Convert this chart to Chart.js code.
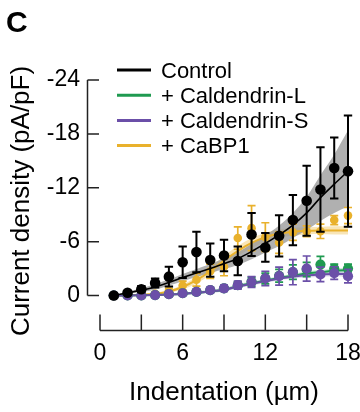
<!DOCTYPE html>
<html>
<head>
<meta charset="utf-8">
<script src="https://cdn.jsdelivr.net/npm/chart.js@4/dist/chart.umd.min.js"></script>
<style>
  html, body { margin: 0; padding: 0; background: #fff; }
  canvas { display: block; }
</style>
</head>
<body>
<canvas id="c" width="360" height="412"></canvas>
<script>
// ---------------- data ----------------
const indentation = [1, 2, 3, 4, 5, 6, 7, 8, 9, 10, 11, 12, 13, 14, 15, 16, 17, 18];

const controlMean = [0, -0.3, -0.7, -1.4, -2.1, -3.7, -4.85, -3.95, -4.45, -3.85, -6.8, -5.35, -6.65, -8.4, -10.55, -11.8, -14.2, -13.85];
const controlSem  = [0.1, 0.15, 0.35, 0.5, 1.1, 1.75, 2.25, 1.85, 1.75, 1.6, 2.4, 1.6, 2.3, 2.8, 3.9, 4.7, 3.4, 6.2];
const controlFit  = [0, -0.3, -0.6, -0.95, -1.45, -2.0, -2.5, -3.0, -3.55, -4.1, -4.9, -5.8, -6.75, -7.85, -9.2, -10.9, -12.4, -13.85];
const controlBandHigh = [0, -0.4, -0.8, -1.25, -1.8, -2.4, -2.95, -3.5, -4.15, -4.8, -5.75, -6.7, -7.8, -9.2, -11.0, -13.4, -15.7, -18.4];
const controlBandLow  = [0, -0.2, -0.4, -0.65, -1.1, -1.6, -2.05, -2.5, -2.95, -3.4, -4.05, -4.8, -5.5, -6.4, -7.3, -8.3, -9.2, -9.9];

const calLMean = [0, 0, 0, -0.05, -0.15, -0.25, -0.4, -0.6, -0.8, -1.15, -1.55, -1.9, -2.2, -2.6, -2.9, -3.45, -3.0, -3.0];
const calLSem  = [0.05, 0.05, 0.05, 0.1, 0.1, 0.15, 0.2, 0.25, 0.3, 0.4, 0.5, 0.6, 0.7, 0.8, 0.8, 0.9, 0.5, 0.5];
const calLFit  = [0, 0, -0.02, -0.05, -0.1, -0.18, -0.3, -0.45, -0.62, -1.05, -1.35, -1.65, -1.95, -2.2, -2.45, -2.6, -2.75, -2.85];
const calLBandHigh = [0, -0.05, -0.1, -0.15, -0.2, -0.3, -0.45, -0.6, -0.8, -1.25, -1.55, -1.85, -2.15, -2.4, -2.7, -2.85, -3.0, -3.15];
const calLBandLow  = [0, 0, 0, 0, -0.02, -0.08, -0.15, -0.3, -0.45, -0.85, -1.15, -1.45, -1.75, -2.0, -2.2, -2.35, -2.5, -2.55];

const calSMean = [0, 0, 0, -0.05, -0.15, -0.25, -0.4, -0.6, -0.8, -1.15, -1.5, -1.9, -2.15, -2.6, -3.0, -2.35, -2.5, -2.15];
const calSSem  = [0.05, 0.05, 0.05, 0.1, 0.1, 0.15, 0.2, 0.3, 0.35, 0.45, 0.6, 0.8, 1.0, 1.4, 1.4, 0.8, 0.7, 0.75];
const calSFit  = [0, 0, -0.02, -0.05, -0.1, -0.18, -0.3, -0.45, -0.62, -1.0, -1.3, -1.6, -1.9, -2.1, -2.25, -2.35, -2.4, -2.4];
const calSBandHigh = [0, -0.05, -0.1, -0.15, -0.2, -0.3, -0.45, -0.6, -0.8, -1.2, -1.5, -1.8, -2.1, -2.3, -2.5, -2.6, -2.65, -2.7];
const calSBandLow  = [0, 0, 0, 0, -0.02, -0.08, -0.15, -0.3, -0.45, -0.8, -1.1, -1.4, -1.7, -1.9, -2.0, -2.1, -2.15, -2.1];

const cabp1Mean = [0, -0.05, -0.1, -0.2, -0.5, -1.1, -1.75, -2.7, -3.2, -6.4, -7.5, -6.5, -5.9, -7.05, -7.15, -7.15, -8.4, -8.9];
const cabp1Sem  = [0.05, 0.05, 0.1, 0.15, 0.3, 0.5, 0.7, 0.8, 1.0, 1.25, 2.5, 1.6, 1.2, 0.9, 0.6, 0.8, 0.5, 0.9];
const cabp1Fit  = [0, -0.02, -0.08, -0.2, -0.45, -0.95, -1.7, -2.7, -3.9, -4.95, -5.85, -6.5, -6.9, -7.1, -7.2, -7.25, -7.25, -7.25];
const cabp1BandHigh = [0, -0.05, -0.15, -0.3, -0.6, -1.2, -2.05, -3.15, -4.4, -5.5, -6.4, -7.0, -7.35, -7.55, -7.6, -7.65, -7.7, -7.7];
const cabp1BandLow  = [0, 0, -0.02, -0.1, -0.3, -0.7, -1.35, -2.25, -3.4, -4.4, -5.3, -6.0, -6.45, -6.65, -6.8, -6.85, -6.8, -6.8];

const xTickValues = [0, 3, 6, 9, 12, 15, 18];
const xTickLabels = ['0', '', '6', '', '12', '', '18'];
const yTickValues = [-24, -18, -12, -6, 0];
const yTickLabels = ['-24', '-18', '-12', '-6', '0'];

const legendLabels = ['Control', '+ Caldendrin-L', '+ Caldendrin-S', '+ CaBP1'];
const panelLabel = 'C';
const xTitle = 'Indentation (\u00b5m)';
const yTitle = 'Current density (pA/pF)';

// ---------------- styles ----------------
const FONT = '"Liberation Sans", Arial, Helvetica, sans-serif';
const COL = { control: '#000000', calL: '#1f9a50', calS: '#6b4fa8', cabp1: '#e9b12c' };
const legendColors = [COL.control, COL.calL, COL.calS, COL.cabp1];

const pts = arr => indentation.map((x, i) => ({ x: x, y: arr[i] }));

function pointSet(label, mean, sem, color, radius, order, capHalf, errWidth) {
  return {
    label: label, data: pts(mean), errors: sem, showLine: false,
    pointRadius: radius, pointHoverRadius: radius, pointBackgroundColor: color,
    pointBorderWidth: 0, borderColor: color, backgroundColor: color,
    order: order, clip: false, capHalf: capHalf, errWidth: errWidth
  };
}
function fitSet(label, fit, color, width, order) {
  return {
    label: label, data: pts(fit), borderColor: color, borderWidth: width,
    pointRadius: 0, fill: false, cubicInterpolationMode: 'monotone',
    order: order, clip: false
  };
}
function bandSets(label, hi, lo, fillColor, order) {
  return [
    { label: label + ' hi', data: pts(hi), borderWidth: 0, pointRadius: 0, fill: false,
      cubicInterpolationMode: 'monotone', order: order, clip: false },
    { label: label + ' lo', data: pts(lo), borderWidth: 0, pointRadius: 0, fill: '-1',
      backgroundColor: fillColor, cubicInterpolationMode: 'monotone', order: order, clip: false }
  ];
}

const datasets = [].concat(
  bandSets('CaBP1 band', cabp1BandHigh, cabp1BandLow, 'rgba(236,180,50,0.35)', 20),
  bandSets('Control band', controlBandHigh, controlBandLow, 'rgba(150,150,150,0.75)', 19),
  bandSets('Cal-L band', calLBandHigh, calLBandLow, 'rgba(31,154,80,0.22)', 18),
  bandSets('Cal-S band', calSBandHigh, calSBandLow, 'rgba(107,79,168,0.22)', 17),
  [
    fitSet('CaBP1 fit', cabp1Fit, COL.cabp1, 2, 9),
    pointSet('CaBP1', cabp1Mean, cabp1Sem, COL.cabp1, 4.3, 8, 4, 1.7),
    fitSet('Cal-L fit', calLFit, COL.calL, 2, 7),
    fitSet('Cal-S fit', calSFit, COL.calS, 2, 6),
    pointSet('Caldendrin-L', calLMean, calLSem, COL.calL, 5.1, 5, 4, 1.7),
    pointSet('Caldendrin-S', calSMean, calSSem, COL.calS, 5.1, 4, 4, 1.7),
    fitSet('Control fit', controlFit, COL.control, 1.6, 3),
    pointSet('Control', controlMean, controlSem, COL.control, 5.3, 2, 4.2, 2)
  ]
);

// error bars drawn just before each point dataset
const errorBars = {
  id: 'errorBars',
  beforeDatasetDraw(chart, args) {
    const ds = chart.data.datasets[args.index];
    if (!ds.errors) return;
    const ys = chart.scales.y;
    const ctx = chart.ctx;
    ctx.save();
    ctx.strokeStyle = ds.borderColor;
    ctx.lineWidth = ds.errWidth;
    ds.data.forEach((p, i) => {
      const el = args.meta.data[i];
      const e = ds.errors[i];
      const px = el.x;
      const t = ys.getPixelForValue(p.y - e);
      const b = ys.getPixelForValue(p.y + e);
      ctx.beginPath();
      ctx.moveTo(px, t); ctx.lineTo(px, b);
      ctx.moveTo(px - ds.capHalf, t); ctx.lineTo(px + ds.capHalf, t);
      ctx.moveTo(px - ds.capHalf, b); ctx.lineTo(px + ds.capHalf, b);
      ctx.stroke();
    });
    ctx.restore();
  }
};

// offset axes, legend, titles
const decorations = {
  id: 'decorations',
  afterDraw(chart) {
    const ctx = chart.ctx;
    const xs = chart.scales.x, ys = chart.scales.y, area = chart.chartArea;
    ctx.save();
    ctx.strokeStyle = '#222';
    ctx.lineWidth = 1.5;
    // y axis
    const yx = area.left - 12.5;
    ctx.beginPath();
    ctx.moveTo(yx, ys.getPixelForValue(yTickValues[0]));
    ctx.lineTo(yx, ys.getPixelForValue(yTickValues[yTickValues.length - 1]));
    yTickValues.forEach(v => {
      const py = ys.getPixelForValue(v);
      ctx.moveTo(yx, py); ctx.lineTo(yx + 11.5, py);
    });
    ctx.stroke();
    // x axis
    const xy = area.bottom + 35;
    ctx.beginPath();
    ctx.moveTo(xs.getPixelForValue(xTickValues[0]), xy);
    ctx.lineTo(xs.getPixelForValue(xTickValues[xTickValues.length - 1]), xy);
    xTickValues.forEach(v => {
      const px = xs.getPixelForValue(v);
      ctx.moveTo(px, xy); ctx.lineTo(px, xy - 16);
    });
    ctx.stroke();

    // legend
    ctx.font = '22px ' + FONT;
    ctx.textAlign = 'left';
    ctx.textBaseline = 'alphabetic';
    legendLabels.forEach((lab, i) => {
      const ly = 70 + i * 25.2;
      ctx.strokeStyle = legendColors[i];
      ctx.lineWidth = 3;
      ctx.beginPath(); ctx.moveTo(117, ly); ctx.lineTo(151, ly); ctx.stroke();
      ctx.fillStyle = '#000';
      ctx.fillText(lab, 161, ly + 7.5);
    });

    // panel label
    ctx.font = 'bold 30px ' + FONT;
    ctx.fillStyle = '#000';
    ctx.fillText(panelLabel, 6, 32);

    // axis titles
    ctx.font = '26px ' + FONT;
    ctx.textAlign = 'center';
    ctx.fillText(xTitle, (xs.getPixelForValue(0) + xs.getPixelForValue(18)) / 2, 400);
    ctx.translate(29, 201);
    ctx.rotate(-Math.PI / 2);
    ctx.fillText(yTitle, 0, 0);
    ctx.restore();
  }
};

new Chart(document.getElementById('c'), {
  type: 'line',
  data: { datasets: datasets },
  options: {
    responsive: false,
    animation: false,
    devicePixelRatio: 1,
    layout: { padding: { left: 0, right: 12, top: 80, bottom: 0 } },
    plugins: { legend: { display: false }, tooltip: { enabled: false }, title: { display: false } },
    scales: {
      x: {
        type: 'linear', min: 0, max: 18,
        grid: { display: false, drawTicks: false }, border: { display: false },
        afterBuildTicks: s => { s.ticks = xTickValues.map(v => ({ value: v })); },
        afterFit: s => { s.height = 116.5; s.paddingLeft = 0; s.paddingRight = 0; },
        ticks: {
          autoSkip: false, maxRotation: 0, padding: 44, color: '#000',
          font: { family: FONT, size: 23 },
          callback: (v, i) => xTickLabels[i]
        }
      },
      y: {
        type: 'linear', min: -24, max: 0, reverse: true,
        grid: { display: false, drawTicks: false }, border: { display: false },
        afterBuildTicks: s => { s.ticks = yTickValues.map(v => ({ value: v })); },
        afterFit: s => { s.width = 100; s.paddingTop = 0; s.paddingBottom = 0; },
        ticks: {
          autoSkip: false, padding: 20, color: '#000',
          font: { family: FONT, size: 23 },
          callback: (v, i) => yTickLabels[i]
        }
      }
    }
  },
  plugins: [errorBars, decorations]
});
</script>
</body>
</html>
